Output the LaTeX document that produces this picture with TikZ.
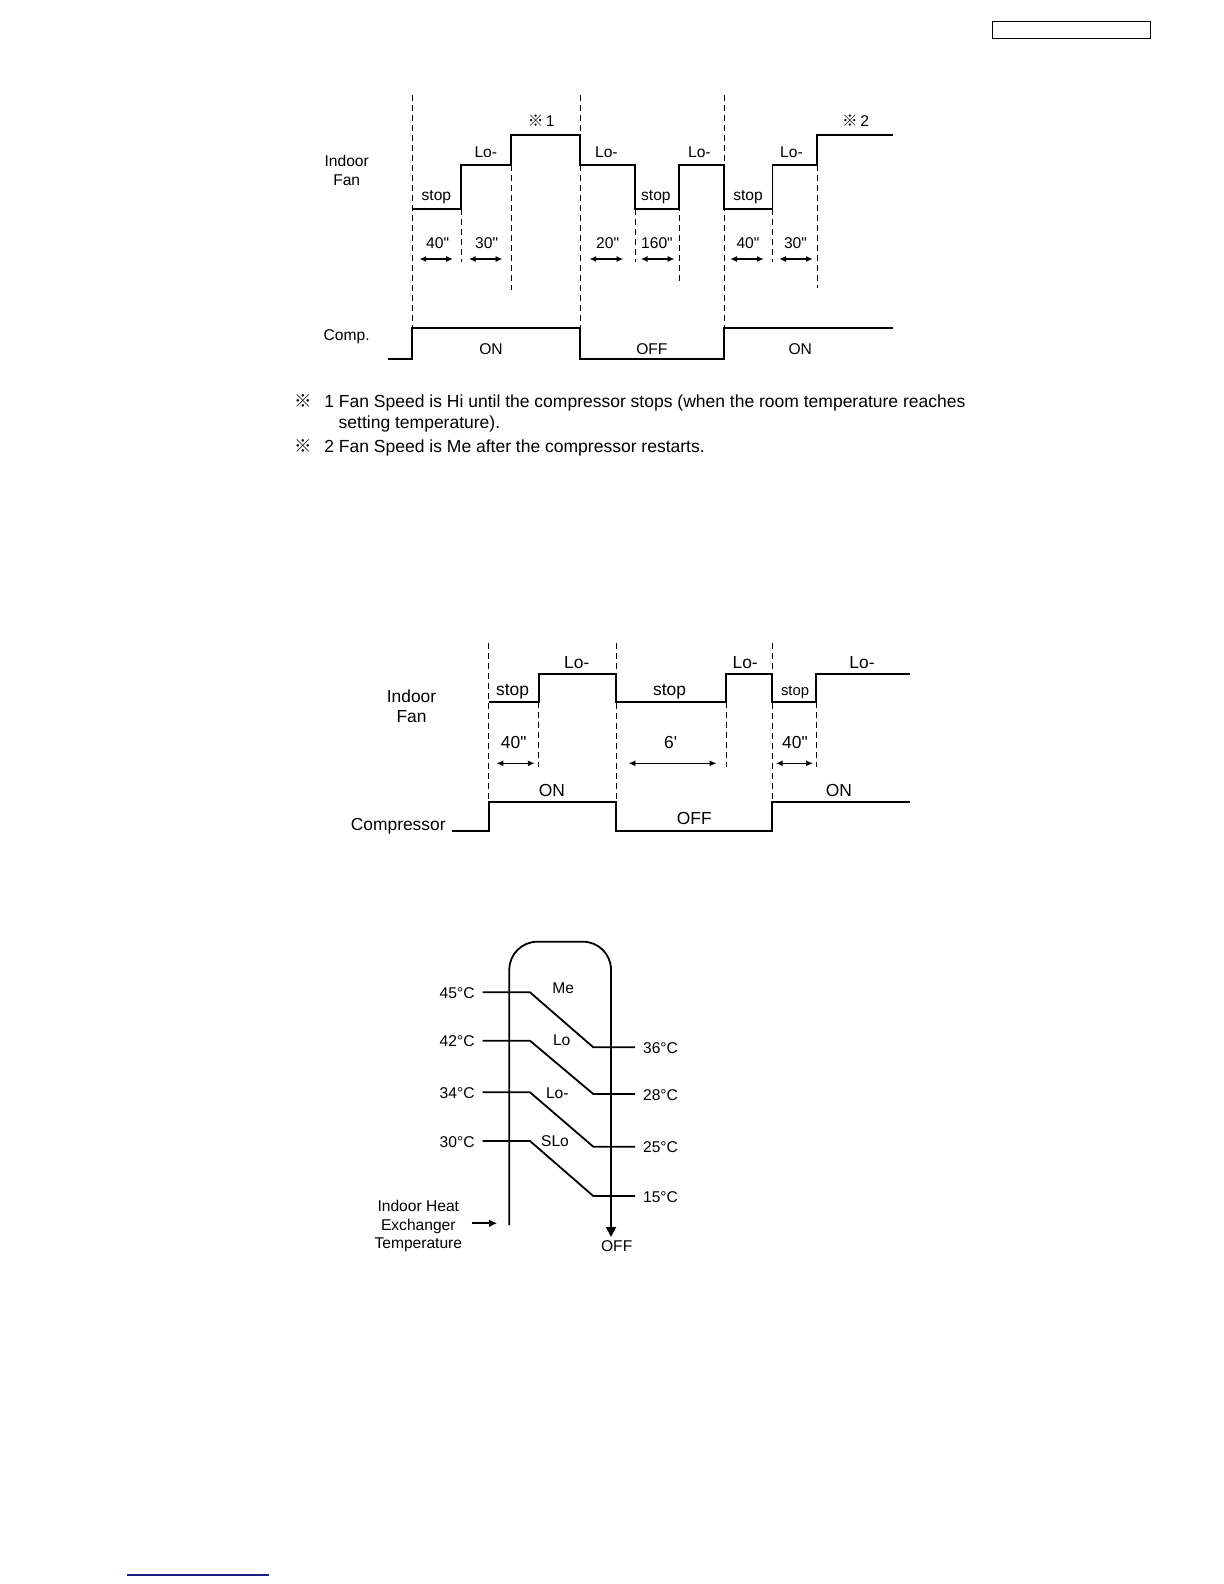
\documentclass[tikz,border=0pt]{standalone}
\usepackage{fontspec}
\setmainfont{Liberation Sans}[Ligatures=TeXOff]
\newfontfamily\cjk{Noto Sans CJK JP}
\usetikzlibrary{arrows.meta}
\definecolor{linkBlue}{HTML}{1C1C8A}

\begin{document}
\begin{tikzpicture}[
  x=0.5pt, y=-0.5pt,
  lbl/.style={inner sep=0pt, anchor=base, font=\fontsize{7.8}{9}\selectfont},
  lblb/.style={inner sep=0pt, anchor=base, font=\fontsize{8.7}{10}\selectfont},
  note/.style={inner sep=0pt, anchor=base west, font=\fontsize{8.75}{10}\selectfont},
  wave/.style={line width=0.9pt, line join=miter},
  guide/.style={line width=0.5pt, dash pattern=on 3pt off 2pt},
  dim/.style={{Latex[length=3.4pt,width=3pt]}-{Latex[length=3.4pt,width=3pt]}, line width=0.7pt},
  heat/.style={line width=0.9pt},
  ptr/.style={-{Latex[length=4pt,width=4pt]}, line width=0.9pt}
]
  \useasboundingbox (0,0) rectangle (1224,1584);

  \draw[line width=0.7pt] (992.3,21.7) rectangle (1150.7,38.3);
  \draw[linkBlue, line width=0.6pt] (127,1575) -- (269,1575);

  % cooling: fan with compressor cycle
  \foreach \x in {412,580,724} \draw[guide] (\x,95) -- (\x,328);
  \foreach \x/\ya/\yb in {461/209/262, 511/165/290, 635/209/262, 679/165/285, 772.5/209/262, 817/165/288}
    \draw[guide] (\x,\ya) -- (\x,\yb);
  \draw[wave] (412,209) -- (461,209) -- (461,165) -- (511,165) -- (511,135) -- (580,135)
    -- (580,165) -- (635,165) -- (635,209) -- (679,209) -- (679,165) -- (724,165)
    -- (724,209) -- (772.5,209) -- (772.5,165) -- (817,165) -- (817,135) -- (893,135);
  \draw[wave] (388,359) -- (412,359) -- (412,328) -- (580,328) -- (580,359) -- (724,359)
    -- (724,328) -- (893,328);

  \node[lbl] (fan1) at (346.7,166) {Indoor};
  \node[lbl] (fan1b) at (346.7,185) {Fan};
  \node[lbl] (comp1) at (346.7,340.7) {Comp.};
  \node[lbl] (mark1) at (541.2,126.7) {{\cjk ※}\,1};
  \node[lbl] (mark2) at (855.6,126.7) {{\cjk ※}\,2};
  \foreach \x [count=\i] in {485.8,606.4,699.4,791.5}
    \node[lbl] (lo\i) at (\x,157.7) {Lo-};
  \foreach \x [count=\i] in {436.4,655.9,748}
    \node[lbl] (stop\i) at (\x,200) {stop};
  \foreach \x/\t [count=\i] in {437.6/40", 486.6/30", 607.6/20", 657/160", 748/40", 795.5/30"}
    \node[lbl] (t\i) at (\x,248.3) {\t};
  \foreach \a/\b in {419.4/453, 468.8/502.5, 589.4/623.4, 640.8/674.5, 730.2/763.8, 779.2/812.8}
    \draw[dim] (\a,259) -- (\b,259);
  \node[lbl] (on1) at (491,354) {ON};
  \node[lbl] (off1) at (651.9,354) {OFF};
  \node[lbl] (on2) at (800.2,354) {ON};

  \node[note, anchor=base west] (nm1) at (294,407) {\cjk ※};
  \node[note] (n1) at (324,407) {1 Fan Speed is Hi until the compressor stops (when the room temperature reaches};
  \node[note] (n1b) at (338.3,428) {setting temperature).};
  \node[note] (nm2) at (294,452.5) {\cjk ※};
  \node[note] (n2) at (324,452.5) {2 Fan Speed is Me after the compressor restarts.};

  % dry: fan with compressor cycle
  \foreach \x in {488.8,616.3,772} \draw[guide] (\x,643) -- (\x,801.7);
  \foreach \x in {538.6,726.1,816} \draw[guide] (\x,701.7) -- (\x,766.7);
  \draw[wave] (488.8,701.7) -- (538.6,701.7) -- (538.6,674) -- (616.3,674) -- (616.3,701.7)
    -- (726.1,701.7) -- (726.1,674) -- (772,674) -- (772,701.7) -- (816,701.7) -- (816,674) -- (909.8,674);
  \draw[wave] (451.7,830.7) -- (488.8,830.7) -- (488.8,801.7) -- (616.3,801.7) -- (616.3,830.7)
    -- (772,830.7) -- (772,801.7) -- (909.8,801.7);

  \node[lblb] (fan2) at (411.5,702.7) {Indoor};
  \node[lblb] (fan2b) at (411.5,722) {Fan};
  \node[lblb, anchor=base east] (comp2) at (446,830) {Compressor};
  \node[lblb] (dstop1) at (512.5,695) {stop};
  \node[lblb] (dstop2) at (669.5,695) {stop};
  \node[lbl, font=\fontsize{7.4}{9}\selectfont] (dstop3) at (795,695) {stop};
  \foreach \x [count=\i] in {576.8,745.2,862}
    \node[lblb] (dlo\i) at (\x,668.3) {Lo-};
  \node[lblb] (d1) at (513.7,748.3) {40"};
  \node[lblb] (d2) at (670.6,748.3) {6'};
  \node[lblb] (d3) at (795,748.3) {40"};
  \foreach \a/\b in {496.5/534.7, 628.5/716.5, 775.8/813}
    \draw[dim] (\a,763.3) -- (\b,763.3);
  \node[lblb] (don1) at (552,796) {ON};
  \node[lblb] (doff) at (694.3,824) {OFF};
  \node[lblb] (don2) at (839,796) {ON};

  % fan speed by heat exchanger temperature
  \draw[heat, rounded corners=14pt] (509.3,1225) -- (509.3,941.7) -- (611,941.7) -- (611,1222);
  \draw[heat, -{Triangle[length=5pt,width=5pt]}] (611,1220) -- (611,1237);
  \foreach \yl/\yr/\tl/\tr/\xs/\ys/\sp in {992.3/1047.3/45/36/563.3/993.3/Me, 1040.7/1094/42/28/561.7/1045.7/Lo,
      1092.3/1146.7/34/25/557.3/1098.3/Lo-, 1141/1196/30/15/555/1146.7/SLo} {
    \draw[heat] (482.7,\yl) -- (530,\yl) -- (593.3,\yr) -- (635,\yr);
    \node[lbl, anchor=base east] (l\tl) at (475,\yl+6) {\tl°C};
    \node[lbl, anchor=base west] (r\tr) at (642.7,\yr+6) {\tr°C};
    \node[lbl] (s\tl) at (\xs,\ys) {\sp};
  }
  \node[lbl] (hx1) at (418.3,1211.7) {Indoor Heat};
  \node[lbl] (hx2) at (418.3,1230) {Exchanger};
  \node[lbl] (hx3) at (418.3,1248.3) {Temperature};
  \node[lbl] (hxoff) at (616.7,1251.7) {OFF};
  \coordinate (hxin) at (497,1223.3);
  \draw[ptr] (471.7,1223.3) -- (hxin);
\end{tikzpicture}
\end{document}
